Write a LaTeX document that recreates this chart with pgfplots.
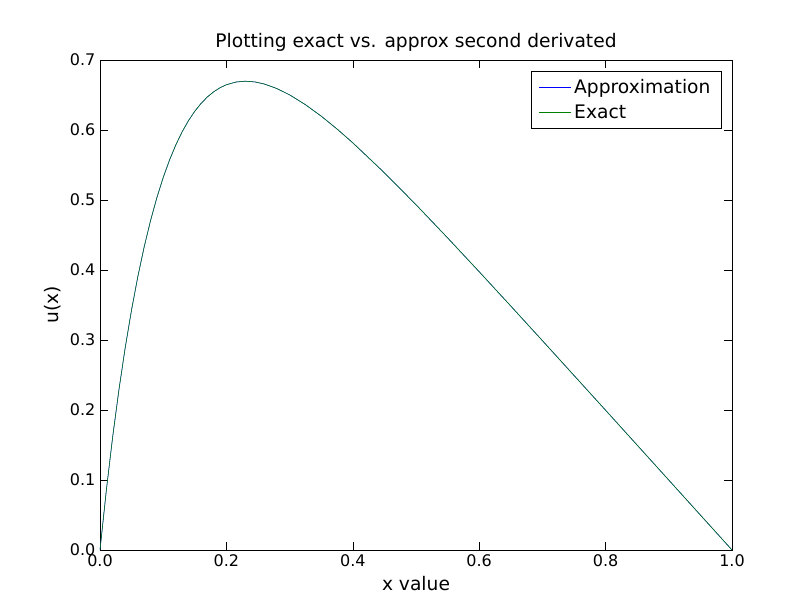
\documentclass[border=0pt]{standalone}
\usepackage{pgfplots}
\pgfplotsset{compat=1.18}
\usepackage{fontspec}
\setmainfont{DejaVu Sans}
\definecolor{mblue}{rgb}{0,0,1}
\definecolor{mgreen}{rgb}{0,0.5,0}
\begin{document}
\begin{tikzpicture}
\pgfplotstableread{
x y
0 0
0.01 0.085163
0.02 0.161269
0.03 0.229182
0.04 0.289680
0.05 0.343469
0.06 0.391188
0.07 0.433415
0.08 0.470671
0.09 0.503430
0.10 0.532121
0.11 0.557129
0.12 0.578806
0.13 0.597470
0.14 0.613403
0.15 0.626870
0.16 0.638103
0.17 0.647317
0.18 0.654701
0.19 0.660431
0.20 0.664665
0.215 0.668520
0.23 0.669741
0.245 0.668697
0.26 0.665726
0.28 0.659190
0.30 0.650213
0.325 0.636223
0.35 0.619803
0.375 0.601484
0.40 0.581684
0.45 0.538891
0.5 0.493262
0.55 0.445913
0.6 0.397521
0.65 0.348497
0.7 0.299088
0.8 0.199665
0.9 0.099877
1.0 0
}\data
\begin{axis}[
  scale only axis, width=474pt, height=367.5pt,
  xmin=0, xmax=1, ymin=0, ymax=0.7,
  xtick={0,0.2,...,1.0}, ytick={0,0.1,...,0.7},
  xticklabel style={/pgf/number format/.cd,fixed,fixed zerofill,precision=1},
  yticklabel style={/pgf/number format/.cd,fixed,fixed zerofill,precision=1},
  /pgf/number format/assume math mode=true,
  tick style={black, thin}, major tick length=6pt,
  tick align=inside, xtick pos=both, ytick pos=both,
  ticklabel style={font=\fontsize{12}{14}\selectfont},
  title={Plotting exact vs. approx second derivated},
  title style={font=\fontsize{14}{16}\selectfont, yshift=-3pt},
  xlabel={x value}, ylabel={u(x)},
  label style={font=\fontsize{14}{16}\selectfont},
  legend style={at={(1,1)}, anchor=north east, xshift=-8pt, yshift=-8pt,
    font=\fontsize{14}{16}\selectfont, draw=black, inner xsep=6pt, inner ysep=4pt, row sep=3pt},
  legend cell align=left,
  legend image code/.code={\draw[#1] (0pt,0pt) -- (24pt,0pt);},
]
\addplot[mblue, thin] table {\data};
\addlegendentry{Approximation}
\addplot[mgreen, thin] table {\data};
\addlegendentry{Exact}
\end{axis}
\path (current axis.south west) ++(-75pt,-46.5pt) rectangle ++(609pt,459pt);
\end{tikzpicture}
\end{document}
